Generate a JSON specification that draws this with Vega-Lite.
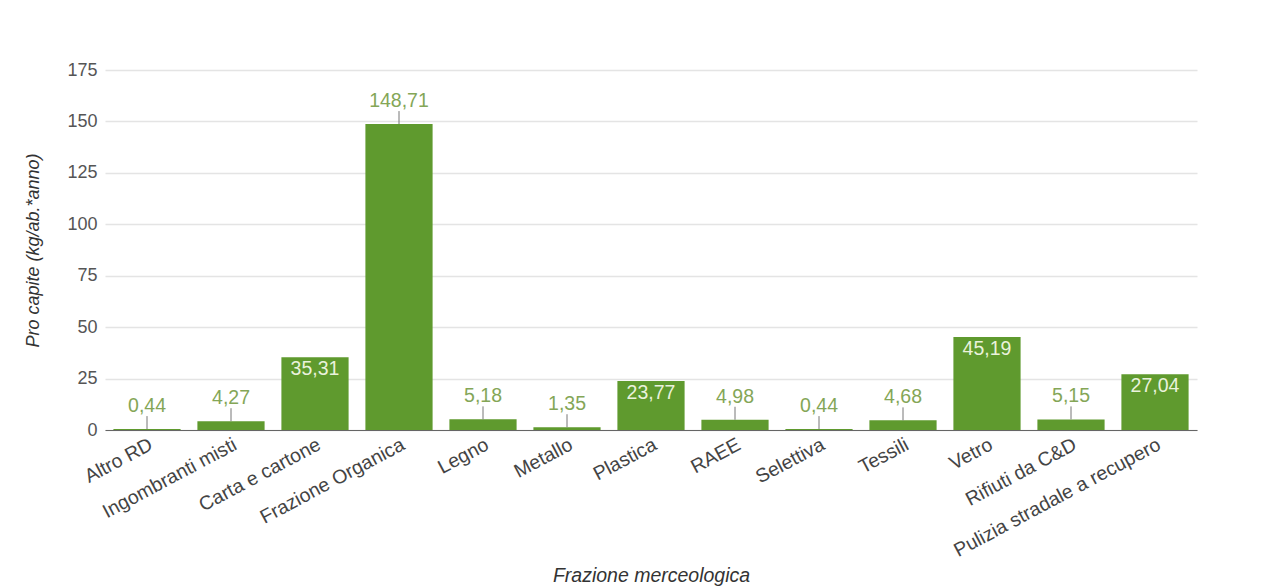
{
  "$schema": "https://vega.github.io/schema/vega-lite/v6.json",
  "autosize": "none",
  "width": 1092,
  "height": 360,
  "padding": {"left": 105, "top": 70, "right": 85, "bottom": 158},
  "background": "white",
  "config": {
    "locale": {"number": {"decimal": ",", "thousands": ".", "grouping": [3], "currency": ["", " €"]}},
    "view": {"stroke": null},
    "font": "Liberation Sans"
  },
  "data": {"values": [
    {"cat": "Altro RD", "value": 0.44},
    {"cat": "Ingombranti misti", "value": 4.27},
    {"cat": "Carta e cartone", "value": 35.31},
    {"cat": "Frazione Organica", "value": 148.71},
    {"cat": "Legno", "value": 5.18},
    {"cat": "Metallo", "value": 1.35},
    {"cat": "Plastica", "value": 23.77},
    {"cat": "RAEE", "value": 4.98},
    {"cat": "Selettiva", "value": 0.44},
    {"cat": "Tessili", "value": 4.68},
    {"cat": "Vetro", "value": 45.19},
    {"cat": "Rifiuti da C&D", "value": 5.15},
    {"cat": "Pulizia stradale a recupero", "value": 27.04}
  ]},
  "encoding": {
    "x": {"field": "cat", "type": "nominal", "sort": null,
      "scale": {"paddingInner": 0.2, "paddingOuter": 0.1},
      "axis": {"title": "Frazione merceologica", "titleFontStyle": "italic", "titleFontWeight": "normal", "titleFontSize": 19.5, "titleColor": "#333", "titleY": 151, "titleBaseline": "alphabetic",
        "labelAngle": -28, "labelAlign": "right", "labelBaseline": "top", "labelFontSize": 19.5, "labelColor": "#444", "labelPadding": 5, "labelLimit": 0,
        "ticks": false, "domainColor": "#666", "domainWidth": 1.2}}
  },
  "layer": [
    {"mark": {"type": "bar", "color": "#5f9a2e"},
     "encoding": {"y": {"field": "value", "type": "quantitative",
        "scale": {"domain": [0, 175], "padding": 0, "nice": false, "zero": true},
        "axis": {"title": "Pro capite (kg/ab.*anno)", "titleFontStyle": "italic", "titleFontWeight": "normal", "titleFontSize": 18, "titleColor": "#333", "titleX": -63,
          "values": [0, 25, 50, 75, 100, 125, 150, 175], "labelFontSize": 18, "labelColor": "#555", "labelPadding": 8,
          "ticks": false, "domain": false, "gridColor": "#e4e4e4", "gridWidth": 1.5}}}},
    {"transform": [{"filter": "datum.value < 20 || datum.value > 100"}],
     "mark": {"type": "rule", "color": "#777", "strokeWidth": 1, "y2Offset": -13},
     "encoding": {"y": {"field": "value", "type": "quantitative"}, "y2": {"field": "value"}}},
    {"transform": [{"filter": "datum.value < 20 || datum.value > 100"}],
     "mark": {"type": "text", "color": "#84a657", "fontSize": 19.5, "baseline": "alphabetic", "dy": -17},
     "encoding": {"y": {"field": "value", "type": "quantitative"}, "text": {"field": "value", "type": "quantitative", "format": ".2f"}}},
    {"transform": [{"filter": "datum.value >= 20 && datum.value <= 100"}],
     "mark": {"type": "text", "color": "#eaf2dc", "fontSize": 19.5, "baseline": "top", "dy": 3},
     "encoding": {"y": {"field": "value", "type": "quantitative"}, "text": {"field": "value", "type": "quantitative", "format": ".2f"}}}
  ]
}
